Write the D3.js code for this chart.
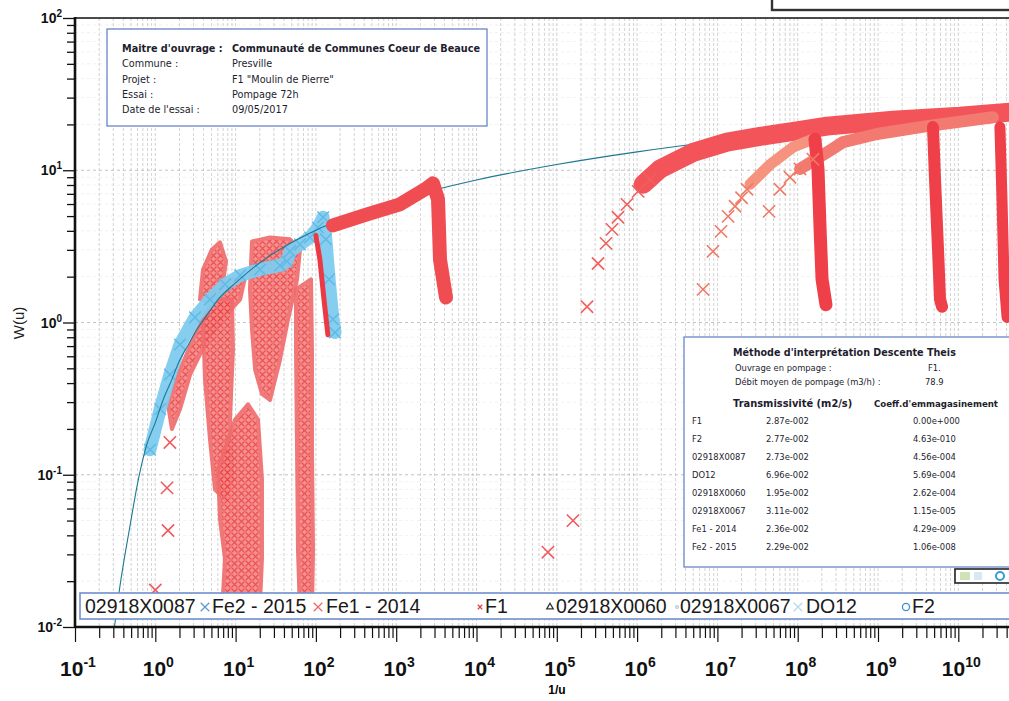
<!DOCTYPE html>
<html>
<head>
<meta charset="utf-8">
<script src="https://cdn.jsdelivr.net/npm/d3@7"></script>
<style>
  body { margin: 0; background: #fff; }
  svg { display: block; }
</style>
</head>
<body>
<div id="chart"></div>
<script>
// ---- Data (1/u, W(u)) ----

// Theis type curve W(u)
const theisInvU = [0.31, 0.36, 0.48, 0.62, 0.79, 1.0, 1.25, 1.6, 2.0, 2.6, 3.3, 4.2, 6, 10, 20, 50, 100, 300, 1e3, 1e4, 1e5, 1e6, 1e7, 1e8, 1e9, 1e10, 4.5e10];
const theisW    = [0.010, 0.018, 0.045, 0.095, 0.16, 0.22, 0.31, 0.42, 0.56, 0.72, 0.90, 1.08, 1.41, 1.82, 2.47, 3.35, 4.04, 5.1, 6.33, 8.63, 10.9, 13.2, 15.5, 17.8, 20.2, 22.5, 24.0];

// observation wells, dense clouds of crosses (outline of each cloud)
const cloudRise   = [[1.44, 0.29], [2.03, 0.49], [3.12, 0.83], [4.80, 1.31], [8.51, 1.92], [13.1, 1.98], [11.4, 1.42], [6.78, 1.05], [4.16, 0.72], [2.71, 0.455], [2.03, 0.27], [1.61, 0.20]];
const cloudSpike  = [[3.60, 1.42], [3.93, 2.23], [5.08, 3.02], [6.39, 3.36], [7.59, 2.52], [6.78, 1.65], [5.23, 1.37]];
const cloudDropA  = [[3.93, 1.05], [5.54, 1.42], [9.02, 1.42], [9.28, 0.66], [8.51, 0.23], [9.02, 0.093], [7.38, 0.069], [5.54, 0.080], [4.80, 0.17], [4.16, 0.42]];
const cloudDropB  = [[6.04, 0.108], [9.84, 0.23], [14.3, 0.29], [19.0, 0.23], [21.3, 0.093], [21.3, 0.028], [20.1, 0.014], [13.1, 0.0126], [6.78, 0.0126], [7.38, 0.028], [6.39, 0.051]];
const cloudMid    = [[16.0, 3.41], [26.8, 3.62], [47.6, 3.52], [63.4, 3.02], [58.2, 1.92], [45.0, 1.05], [35.7, 0.57], [26.8, 0.31], [21.3, 0.34], [17.5, 0.49], [16.0, 0.90], [15.1, 1.65]];
const cloudColumn = [[56.5, 1.65], [86.9, 1.92], [89.4, 0.66], [89.4, 0.146], [92.1, 0.032], [89.4, 0.0126], [63.4, 0.0126], [59.8, 0.032], [58.2, 0.146], [56.5, 0.66]];

// DO12 (light blue crosses)
const do12 = [[0.86, 0.146], [1.15, 0.27], [1.52, 0.455], [2.03, 0.717], [3.12, 1.08], [4.80, 1.42], [7.38, 1.78], [11.4, 2.04], [20.1, 2.23], [35.7, 2.37], [43.6, 2.52], [47.6, 2.93], [63.4, 3.26], [84.5, 3.62], [106, 4.21], [123, 4.91], [133, 3.52], [146, 1.92], [163, 1.05], [173, 0.86]];

// F1 pumping well: descent then recovery drop
const f1Descent = [[163, 4.34], [433, 5.13], [1115, 5.97], [2286, 7.50], [2873, 8.2], [3318, 6.44], [3510, 2.6], [4169, 1.46]];
const f1Drop    = [[100, 3.73], [112, 2.60], [126, 1.42], [141, 0.83]];

// far-field curves (Fe1 - 2014, Fe2 - 2015, F2)
const upperBand  = [[1.19e6, 8.09], [1.93e6, 10.2], [4.97e6, 13.1], [1.32e7, 15.3], [3.40e7, 16.7], [1.07e8, 18.3], [2.32e8, 19.5], [1.54e9, 21.3], [1.05e10, 22.6], [4.4e10, 24.1]];
const fe2Band    = [[2.55e7, 8.09], [4.52e7, 10.9], [8.74e7, 14.2], [1.55e8, 16.0]];
const f2Band     = [[1.07e8, 10.2], [2.32e8, 13.1], [3.67e8, 15.3], [9.72e8, 17.3], [4.08e9, 19.5], [2.70e10, 22.3]];
const recovery1  = [[1.64e8, 16.0], [1.79e8, 10.2], [1.90e8, 4.09], [2.01e8, 1.92], [2.25e8, 1.31]];
const recovery2  = [[4.84e9, 19.2], [5.13e9, 8.73], [5.59e9, 3.02], [5.92e9, 1.42], [6.27e9, 1.27]];
const recovery3  = [[3.30e10, 19.2], [3.50e10, 6.44], [3.71e10, 1.92], [4.05e10, 1.08]];

// single crosses
const fe1Points = [[2.38e5, 1.27], [3.26e5, 2.44], [4.10e5, 3.31], [4.87e5, 4.09], [5.78e5, 4.91], [7.48e5, 5.97], [1.03e6, 7.27], [1.45e6, 8.73]];
const fe2Points = [[6.62e6, 1.65], [8.81e6, 2.93], [1.11e7, 3.97], [1.36e7, 4.98], [1.66e7, 5.80], [2.0e7, 6.6], [2.34e7, 7.50]];
const f2Points  = [[4.40e7, 5.37], [6.02e7, 7.50], [8.02e7, 9.0], [1.07e8, 10.2], [1.55e8, 11.8]];
const looseObs  = [[1.52, 0.163], [1.40, 0.082], [1.44, 0.043], [1.0, 0.0175], [7.76e4, 0.031], [1.59e5, 0.050]];

// legend and info tables
const legendNames = ["02918X0087", "Fe2 - 2015", "Fe1 - 2014", "F1", "02918X0060", "02918X0067", "DO12", "F2"];
const infoLabels = ["Maitre d'ouvrage :", "Commune :", "Projet :", "Essai :", "Date de l'essai :"];
const infoValues = ["Communauté de Communes Coeur de Beauce", "Presville", "F1 \"Moulin de Pierre\"", "Pompage 72h", "09/05/2017"];
const wells = ["F1", "F2", "02918X0087", "DO12", "02918X0060", "02918X0067", "Fe1 - 2014", "Fe2 - 2015"];
const transmissivity = ["2.87e-002", "2.77e-002", "2.73e-002", "6.96e-002", "1.95e-002", "3.11e-002", "2.36e-002", "2.29e-002"];
const storage = ["0.00e+000", "4.63e-010", "4.56e-004", "5.69e-004", "2.62e-004", "1.15e-005", "4.29e-009", "1.06e-008"];
const xDecades = d3.range(-1, 11);
const yDecades = d3.range(-2, 3);

// ---- Layout ----
const width = 1009, height = 701;
const margins = {top: 18, left: 75, bottom: 627};
const decadeW = 80.3;

const svg = d3.select("#chart").append("svg")
  .attr("width", width).attr("height", height)
  .attr("viewBox", [0, 0, width, height]);

const x = d3.scaleLog().domain([0.1, 1e11]).range([margins.left, margins.left + 12 * decadeW]);
const y = d3.scaleLog().domain([0.01, 100]).range([margins.bottom, margins.top]);

const defs = svg.append("defs");
defs.append("clipPath").attr("id", "plot")
  .append("rect").attr("x", margins.left).attr("y", margins.top)
  .attr("width", width - margins.left).attr("height", margins.bottom - margins.top);

// cross hatch to mimic thousands of overlapping x markers
const hatch = defs.append("pattern").attr("id", "xhatch")
  .attr("width", 7).attr("height", 7).attr("patternUnits", "userSpaceOnUse");
hatch.append("rect").attr("width", 7).attr("height", 7).attr("fill", "#f58580");
hatch.append("path").attr("d", "M0.5,0.5L6.5,6.5M6.5,0.5L0.5,6.5")
  .attr("stroke", "#ea3d45").attr("stroke-width", 1.1);

// minor positions for grid and ticks
const xMinor = xDecades.flatMap(k => d3.range(1, 10).map(m => m * Math.pow(10, k))).concat([1e11]);
const yMinor = d3.range(-2, 2).flatMap(k => d3.range(1, 10).map(m => m * Math.pow(10, k))).concat([100]);

// grid
const grid = svg.append("g").attr("clip-path", "url(#plot)");
grid.selectAll("line.vg").data(xMinor).join("line")
  .attr("x1", d => x(d)).attr("x2", d => x(d))
  .attr("y1", margins.top).attr("y2", margins.bottom)
  .attr("stroke", "#8c8c8c").attr("stroke-width", 0.7)
  .attr("stroke-dasharray", "3,2").attr("opacity", 0.55);
grid.selectAll("line.hg").data(yMinor).join("line")
  .attr("x1", margins.left).attr("x2", width)
  .attr("y1", d => y(d)).attr("y2", d => y(d))
  .attr("stroke", "#b5b5b5").attr("stroke-width", d => Number.isInteger(Math.log10(d)) ? 1 : 0.6)
  .attr("stroke-dasharray", "3,3").attr("opacity", d => Number.isInteger(Math.log10(d)) ? 0.8 : 0.3);

const plot = svg.append("g").attr("clip-path", "url(#plot)");
const line = d3.line().x(d => x(d[0])).y(d => y(d[1]));
const closed = d3.line().x(d => x(d[0])).y(d => y(d[1])).curve(d3.curveLinearClosed);

// red clouds of the observation wells
plot.selectAll("path.cloud")
  .data([cloudRise, cloudSpike, cloudDropA, cloudDropB, cloudMid, cloudColumn])
  .join("path")
    .attr("d", closed)
    .attr("fill", "url(#xhatch)")
    .attr("stroke", "#f06a6a").attr("stroke-width", 4)
    .attr("stroke-linejoin", "round")
    .attr("opacity", 0.9);

// DO12 band
plot.append("path").datum(do12)
  .attr("d", line)
  .attr("fill", "none").attr("stroke", "#7ecbee").attr("stroke-width", 13)
  .attr("stroke-linejoin", "round").attr("stroke-linecap", "round").attr("opacity", 0.95);
plot.selectAll("path.do12x").data(do12).join("path")
  .attr("transform", d => `translate(${x(d[0])},${y(d[1])})`)
  .attr("d", d3.symbol(d3.symbolTimes, 90))
  .attr("stroke", "#5fb8e6").attr("stroke-width", 1.4).attr("fill", "none");

// Theis curve
plot.append("path")
  .datum(theisInvU.map((v, i) => [v, theisW[i]]))
  .attr("d", d3.line().x(d => x(d[0])).y(d => y(d[1])).curve(d3.curveMonotoneX))
  .attr("fill", "none").attr("stroke", "#1c7893").attr("stroke-width", 1.1);

// thick red bands
const bands = [
  {d: f1Descent, w: 14, c: "#f04d53"},
  {d: f1Drop, w: 5, c: "#ec3a44"},
  {d: upperBand, w: 19, c: "#f2545a"},
  {d: fe2Band, w: 11, c: "#f6937f"},
  {d: f2Band, w: 12, c: "#f37a70"},
  {d: recovery1, w: 13, c: "#ef3f48"},
  {d: recovery2, w: 12, c: "#ef3f48"},
  {d: recovery3, w: 11, c: "#ef3f48"}
];
plot.selectAll("path.band").data(bands).join("path")
  .attr("d", b => line(b.d))
  .attr("fill", "none")
  .attr("stroke", b => b.c).attr("stroke-width", b => b.w)
  .attr("stroke-linejoin", "round").attr("stroke-linecap", "round");

// isolated x markers
const crosses = [
  {d: fe1Points, c: "#f0605c"},
  {d: fe2Points, c: "#f07a66"},
  {d: f2Points, c: "#f07a66"},
  {d: looseObs, c: "#f05a5e"}
];
crosses.forEach(s => {
  plot.append("g").selectAll("path").data(s.d).join("path")
    .attr("transform", d => `translate(${x(d[0])},${y(d[1])})`)
    .attr("d", d3.symbol(d3.symbolTimes, 100))
    .attr("stroke", s.c).attr("stroke-width", 1.6).attr("fill", "none");
});

// ---- Axes ----
const axes = svg.append("g").attr("stroke", "#111");
axes.append("line").attr("x1", margins.left).attr("x2", width)
  .attr("y1", margins.top).attr("y2", margins.top).attr("stroke-width", 1.6);
axes.append("line").attr("x1", margins.left).attr("x2", margins.left)
  .attr("y1", margins.top - 1).attr("y2", margins.bottom + 1).attr("stroke-width", 2.6);
axes.append("line").attr("x1", margins.left).attr("x2", width)
  .attr("y1", margins.bottom).attr("y2", margins.bottom).attr("stroke-width", 2.6);

const yAxis = d3.axisLeft(y).tickValues(yMinor).tickFormat("").tickSize(7);
svg.append("g").attr("transform", `translate(${margins.left},0)`)
  .call(yAxis)
  .call(g => g.select(".domain").remove())
  .call(g => g.selectAll(".tick line")
    .attr("stroke", "#111").attr("stroke-width", 1.3)
    .attr("x2", d => Number.isInteger(Math.log10(d)) ? -12 : -8));

const xAxis = d3.axisBottom(x).tickValues(xMinor).tickFormat("").tickSize(11);
svg.append("g").attr("transform", `translate(0,${margins.bottom})`)
  .call(xAxis)
  .call(g => g.select(".domain").remove())
  .call(g => g.selectAll(".tick line")
    .attr("stroke", "#111").attr("stroke-width", 1.2)
    .attr("y2", d => Number.isInteger(Math.log10(d)) ? 15 : 11));

// tick labels as 10^k
const narrow = "'Liberation Sans Narrow', 'Arial Narrow', 'Liberation Sans', Arial, sans-serif";
const yLab = svg.append("g").attr("font-family", narrow).attr("font-weight", "bold").attr("fill", "#111");
yDecades.forEach(k => {
  const t = yLab.append("text").attr("x", 62).attr("y", y(Math.pow(10, k)) + 5)
    .attr("text-anchor", "end").attr("font-size", 14);
  t.append("tspan").text("10");
  t.append("tspan").attr("dy", -6).attr("font-size", 10).text(k);
});
const xLab = svg.append("g").attr("font-family", narrow).attr("font-weight", "bold").attr("fill", "#111");
xDecades.forEach(k => {
  const t = xLab.append("text").attr("x", x(Math.pow(10, k)) + 3).attr("y", 676)
    .attr("text-anchor", "middle").attr("font-size", 21);
  t.append("tspan").text("10");
  t.append("tspan").attr("dy", -9).attr("font-size", 14).text(k);
});

svg.append("text").attr("x", 557).attr("y", 694).attr("text-anchor", "middle")
  .attr("font-family", narrow).attr("font-weight", "bold").attr("font-size", 12)
  .text("1/u");
svg.append("text").attr("transform", "translate(24,323) rotate(-90)")
  .attr("text-anchor", "middle").attr("font-family", "'Liberation Sans', Arial, sans-serif")
  .attr("font-size", 15).attr("fill", "#222").text("W(u)");

// ---- Info box (top left) ----
const sans = "'DejaVu Sans', Verdana, sans-serif";
const info = svg.append("g").attr("font-family", sans).attr("font-size", 9.7).attr("fill", "#1d1d2e");
info.append("rect").attr("x", 107).attr("y", 29).attr("width", 380).attr("height", 97)
  .attr("fill", "#fff").attr("stroke", "#5a7cc4").attr("stroke-width", 1.2);
infoLabels.forEach((l, i) => {
  info.append("text").attr("x", 122).attr("y", 52 + i * 15.3)
    .attr("font-weight", i === 0 ? "bold" : "normal").text(l);
  info.append("text").attr("x", 232).attr("y", 52 + i * 15.3)
    .attr("font-weight", i === 0 ? "bold" : "normal").text(infoValues[i]);
});

// ---- Interpretation box (right) ----
const res = svg.append("g").attr("font-family", sans).attr("font-size", 8.4).attr("fill", "#1d1d2e");
res.append("rect").attr("x", 684).attr("y", 337).attr("width", 340).attr("height", 230)
  .attr("fill", "#fff").attr("stroke", "#5a7cc4").attr("stroke-width", 1.2);
res.append("text").attr("x", 733).attr("y", 356).attr("font-weight", "bold").attr("font-size", 9.6)
  .text("Méthode d'interprétation Descente Theis");
res.append("text").attr("x", 735).attr("y", 371).text("Ouvrage en pompage :");
res.append("text").attr("x", 928).attr("y", 371).text("F1.");
res.append("text").attr("x", 735).attr("y", 385).text("Débit moyen de pompage (m3/h) :");
res.append("text").attr("x", 925).attr("y", 385).text("78.9");
res.append("text").attr("x", 733).attr("y", 407).attr("font-weight", "bold").attr("font-size", 9.9).text("Transmissivité (m2/s)");
res.append("text").attr("x", 874).attr("y", 407).attr("font-weight", "bold").attr("font-size", 9.3)
  .attr("textLength", 124).attr("lengthAdjust", "spacingAndGlyphs").text("Coeff.d'emmagasinement");
wells.forEach((w, i) => {
  const yy = 424 + i * 18;
  res.append("text").attr("x", 692).attr("y", yy).text(w);
  res.append("text").attr("x", 766).attr("y", yy).text(transmissivity[i]);
  res.append("text").attr("x", 913).attr("y", yy).text(storage[i]);
});

// small toolbar box under the table
const tb = svg.append("g");
tb.append("rect").attr("x", 955).attr("y", 569).attr("width", 60).attr("height", 14)
  .attr("fill", "#fff").attr("stroke", "#222").attr("stroke-width", 1.6);
tb.append("rect").attr("x", 960).attr("y", 572).attr("width", 10).attr("height", 8).attr("fill", "#cfe3b8");
tb.append("rect").attr("x", 974).attr("y", 572).attr("width", 8).attr("height", 8).attr("fill", "#d8e8f2");
tb.append("circle").attr("cx", 1000).attr("cy", 576).attr("r", 4)
  .attr("fill", "none").attr("stroke", "#3a9ad6").attr("stroke-width", 2);

// frame fragment at the top right of the scan
svg.append("rect").attr("x", 772).attr("y", -12).attr("width", 260).attr("height", 22)
  .attr("fill", "none").attr("stroke", "#333").attr("stroke-width", 2.4);

// ---- Legend ----
const legendX = [85, 212, 326, 485, 556, 680, 806, 912];
const lg = svg.append("g").attr("font-family", "'Liberation Sans', Arial, sans-serif")
  .attr("font-size", 19.5).attr("fill", "#1a1a1a");
lg.append("rect").attr("x", 80).attr("y", 593).attr("width", 950).attr("height", 26)
  .attr("fill", "#fff").attr("stroke", "#6f8fd0").attr("stroke-width", 1.6);
legendNames.forEach((n, i) => {
  lg.append("text").attr("x", legendX[i]).attr("y", 613).text(n);
});
const markers = [
  {x: 205, s: d3.symbolTimes, c: "#5b9bd5", size: 50},
  {x: 318, s: d3.symbolTimes, c: "#f06a6a", size: 50},
  {x: 480, s: d3.symbolTimes, c: "#e0403e", size: 14},
  {x: 550, s: d3.symbolTriangle2, c: "#333", size: 30},
  {x: 677, s: d3.symbolCircle, c: "#b9c9d9", size: 6},
  {x: 798, s: d3.symbolTimes, c: "#b8d8ee", size: 50},
  {x: 906, s: d3.symbolCircle, c: "#3d8fd4", size: 40}
];
lg.selectAll("path.mk").data(markers).join("path")
  .attr("transform", d => `translate(${d.x},607)`)
  .attr("d", d => d3.symbol(d.s, d.size)())
  .attr("fill", "none").attr("stroke", d => d.c).attr("stroke-width", 1.3);
</script>
</body>
</html>
